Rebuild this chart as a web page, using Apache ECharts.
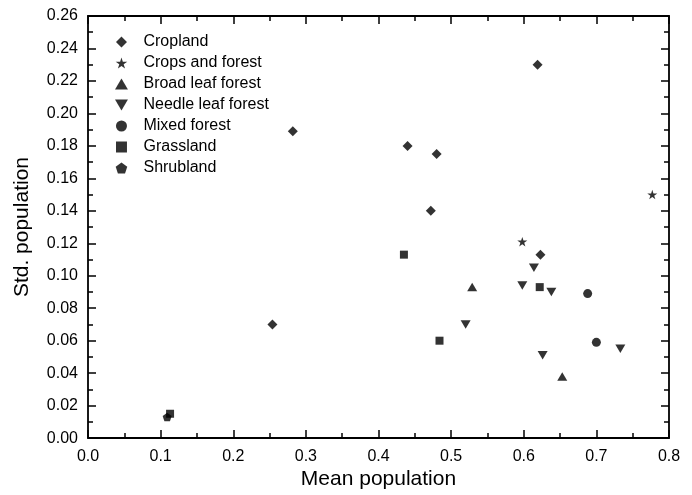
<!DOCTYPE html>
<html>
<head>
<meta charset="utf-8">
<script src="https://cdn.jsdelivr.net/npm/echarts@6/dist/echarts.min.js"></script>
<style>html,body{margin:0;padding:0;background:#fff;}#c{width:692px;height:495px;}</style>
</head>
<body>
<div id="c"></div>
<script>
// ---- data (mean population, std. population) ----
const cropland = [[0.282,0.189],[0.440,0.180],[0.480,0.175],[0.472,0.140],[0.254,0.070],[0.619,0.230],[0.623,0.113]];
const cropsAndForest = [[0.598,0.121],[0.777,0.150]];
const broadLeafForest = [[0.529,0.093],[0.653,0.038]];
const needleLeafForest = [[0.614,0.105],[0.598,0.094],[0.638,0.090],[0.520,0.070],[0.733,0.055],[0.626,0.051]];
const mixedForest = [[0.688,0.089],[0.700,0.059]];
const grassland = [[0.435,0.113],[0.622,0.093],[0.484,0.060],[0.113,0.015]];
const shrubland = [[0.109,0.013]];
const seriesNames = ['Cropland','Crops and forest','Broad leaf forest','Needle leaf forest','Mixed forest','Grassland','Shrubland'];
const xTickLabels = ['0.0','0.1','0.2','0.3','0.4','0.5','0.6','0.7','0.8'];
const yTickLabels = ['0.00','0.02','0.04','0.06','0.08','0.10','0.12','0.14','0.16','0.18','0.20','0.22','0.24','0.26'];

const FONT = '"Liberation Sans", Arial, sans-serif';
const SYM = {
  diamond: 'path://M0,-1L1,0L0,1L-1,0Z',
  star: 'path://M0,-1L0.2234,-0.3074L0.9511,-0.309L0.3614,0.1174L0.5878,0.809L0,0.38L-0.5878,0.809L-0.3614,0.1174L-0.9511,-0.309L-0.2234,-0.3074Z',
  tri: 'path://M-1,0.85L1,0.85L0,-0.85Z',
  inv: 'path://M-1,-0.85L1,-0.85L0,0.85Z',
  circle: 'circle',
  square: 'path://M-1,-1L1,-1L1,1L-1,1Z',
  pent: 'path://M0,-1L0.951,-0.309L0.588,0.809L-0.588,0.809L-0.951,-0.309Z'
};
const defs = [
  [cropland, SYM.diamond, 10],
  [cropsAndForest, SYM.star, 10],
  [broadLeafForest, SYM.tri, 10],
  [needleLeafForest, SYM.inv, 10],
  [mixedForest, SYM.circle, 9],
  [grassland, SYM.square, 8],
  [shrubland, SYM.pent, 9]
];

const chart = echarts.init(document.getElementById('c'), null, {renderer: 'canvas'});
const axisLine = {onZero: false, lineStyle: {color: '#000', width: 1.8}};
const baseX = {
  type: 'value', min: 0, max: 0.8, interval: 0.1,
  axisLine: axisLine,
  axisTick: {inside: true, length: 8, lineStyle: {color: '#000', width: 1.5}},
  minorTick: {show: true, splitNumber: 2, length: 5, lineStyle: {color: '#000', width: 1.5}},
  splitLine: {show: false}
};
const baseY = {
  type: 'value', min: 0, max: 0.26, interval: 0.02,
  axisLine: axisLine,
  axisTick: {inside: true, length: 8, lineStyle: {color: '#000', width: 1.5}},
  minorTick: {show: true, splitNumber: 2, length: 5, lineStyle: {color: '#000', width: 1.5}},
  splitLine: {show: false}
};

chart.setOption({
  animation: false,
  backgroundColor: '#fff',
  textStyle: {fontFamily: FONT, color: '#000'},
  grid: {left: 88, right: 23, top: 16, bottom: 52.5},
  legend: {
    orient: 'vertical', left: 110, top: 29, itemGap: 5,
    itemWidth: 34, itemHeight: 11,
    textStyle: {fontFamily: FONT, fontSize: 16, color: '#000'},
    data: seriesNames
  },
  xAxis: [
    Object.assign({}, baseX, {
      position: 'bottom',
      name: 'Mean population', nameLocation: 'middle', nameGap: 28,
      nameTextStyle: {fontFamily: FONT, fontSize: 21, color: '#000'},
      axisLabel: {margin: 10, fontFamily: FONT, fontSize: 16, color: '#000',
        formatter: v => xTickLabels[Math.round(v * 10)]}
    }),
    Object.assign({}, baseX, {position: 'top', axisLabel: {show: false}})
  ],
  yAxis: [
    Object.assign({}, baseY, {
      position: 'left',
      name: 'Std. population', nameLocation: 'middle', nameGap: 55,
      nameTextStyle: {fontFamily: FONT, fontSize: 21, color: '#000'},
      axisLabel: {margin: 10, fontFamily: FONT, fontSize: 16, color: '#000',
        formatter: v => yTickLabels[Math.round(v * 50)]}
    }),
    Object.assign({}, baseY, {position: 'right', axisLabel: {show: false}})
  ],
  series: defs.map((d, i) => ({
    name: seriesNames[i], type: 'scatter', xAxisIndex: 0, yAxisIndex: 0,
    data: d[0], symbol: d[1], symbolSize: d[2], symbolKeepAspect: true,
    itemStyle: {color: '#000'}
  }))
});
</script>
</body>
</html>
